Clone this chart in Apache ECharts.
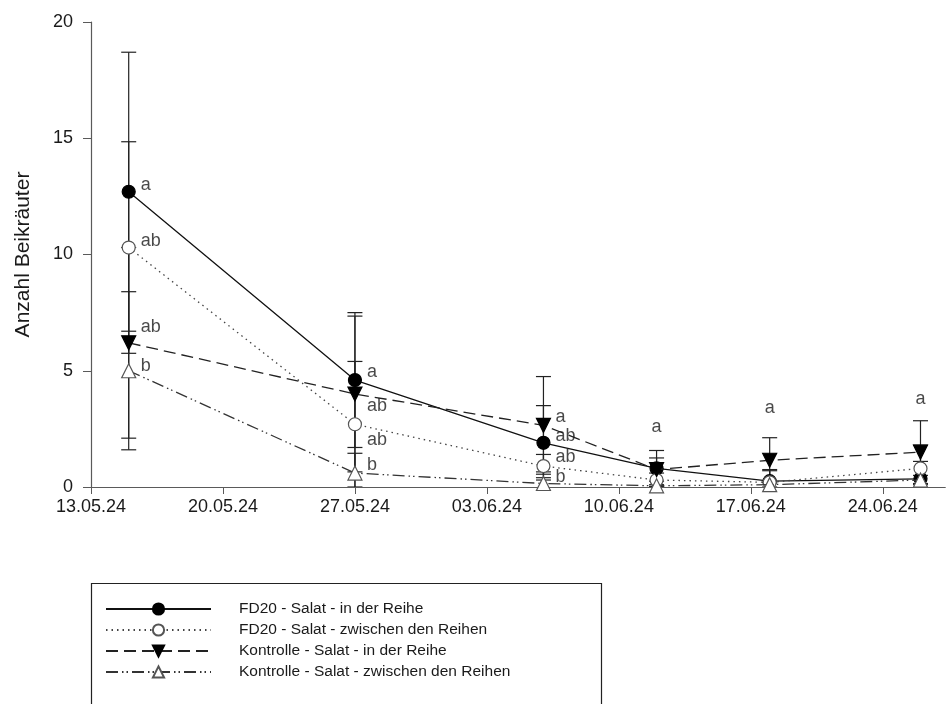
<!DOCTYPE html>
<html><head><meta charset="utf-8">
<script src="https://cdn.jsdelivr.net/npm/echarts@6/dist/echarts.min.js"></script>
<style>html,body{margin:0;padding:0;background:#fff}#c{width:947px;height:704px}</style>
</head><body><div id="c"></div>
<script>
// ---- data ----
const dates = ['15.05.24', '27.05.24', '06.06.24', '12.06.24', '18.06.24', '26.06.24'];
const seriesNames = [
  'FD20 - Salat - in der Reihe',
  'FD20 - Salat - zwischen den Reihen',
  'Kontrolle - Salat - in der Reihe',
  'Kontrolle - Salat - zwischen den Reihen'
];
const fd20Reihe        = [12.7, 4.6, 1.9, 0.8, 0.25, 0.35];
const fd20ReiheErr     = [6.0, 2.9, 1.6, 0.77, 0.45, 0.75];
const fd20Zwischen     = [10.3, 2.7, 0.9, 0.3, 0.2, 0.8];
const fd20ZwischenErr  = [4.55, 2.7, 0.5, 0.3, 0.55, 1.0];
const kontrReihe       = [6.2, 4.0, 2.65, 0.75, 1.15, 1.5];
const kontrReiheErr    = [4.1, 3.35, 2.1, 0.5, 0.97, 1.35];
const kontrZwischen    = [5.0, 0.6, 0.15, 0.05, 0.1, 0.3];
const kontrZwischenErr = [3.4, 0.85, 0.5, 0.05, 0.1, 0.2];

const xTickLabels = ['13.05.24', '20.05.24', '27.05.24', '03.06.24', '10.06.24', '17.06.24', '24.06.24'];
const xAxisEnd = '27.06.24';
const yTicks = [0, 5, 10, 15, 20];
const yAxisTitle = 'Anzahl Beikräuter';

const letterDates  = ['15.05.24','15.05.24','15.05.24','15.05.24','27.05.24','27.05.24','27.05.24','27.05.24','06.06.24','06.06.24','06.06.24','06.06.24','12.06.24','18.06.24','26.06.24'];
const letterValues = [13.0, 10.6, 6.9, 5.2, 4.95, 3.5, 2.0, 0.95, 3.0, 2.2, 1.3, 0.45, 2.6, 3.4, 3.8];
const letterTexts  = ['a','ab','ab','b','a','ab','ab','b','a','ab','ab','b','a','a','a'];
const letterSide   = [true,true,true,true,true,true,true,true,true,true,true,true,false,false,false];

// ---- helpers ----
function dayNum(s) {
  const [d, m, y] = s.split('.').map(Number);
  return Date.UTC(2000 + y, m - 1, d) / 86400000;
}
const base = dayNum(xTickLabels[0]);
const toX = s => dayNum(s) - base;
const xTicks = xTickLabels.map(toX);
const xMax = toX(xAxisEnd) + 0.3;

const FONT = 'Liberation Sans, Arial, sans-serif';
const INK = '#1a1a1a';
const AXIS = '#5a5a5a';

const groups = [
  { vals: fd20Reihe, err: fd20ReiheErr, symbol: 'circle', rot: 0, fill: '#000', border: '#000',
    line: { color: '#111', width: 1.3, type: 'solid' } },
  { vals: fd20Zwischen, err: fd20ZwischenErr, symbol: 'circle', rot: 0, fill: '#fff', border: '#555',
    line: { color: '#444', width: 1.3, type: [1.5, 4] } },
  { vals: kontrReihe, err: kontrReiheErr, symbol: 'triangle', rot: 180, fill: '#000', border: '#000',
    line: { color: '#222', width: 1.3, type: [12, 6] } },
  { vals: kontrZwischen, err: kontrZwischenErr, symbol: 'triangle', rot: 0, fill: '#fff', border: '#555',
    line: { color: '#333', width: 1.3, type: [12, 4, 1.5, 3, 1.5, 4] } }
];

function errRender(params, api) {
  const x = api.value(0), lo = api.value(1), hi = api.value(2);
  const top = api.coord([x, hi]);
  const bot = api.coord([x, Math.max(lo, 0)]);
  const hw = 7.5;
  const st = { stroke: '#222', lineWidth: 1.2 };
  const ch = [
    { type: 'line', shape: { x1: top[0], y1: top[1], x2: bot[0], y2: bot[1] }, style: st },
    { type: 'line', shape: { x1: top[0] - hw, y1: top[1], x2: top[0] + hw, y2: top[1] }, style: st }
  ];
  if (lo >= 0) ch.push({ type: 'line', shape: { x1: bot[0] - hw, y1: bot[1], x2: bot[0] + hw, y2: bot[1] }, style: st });
  return { type: 'group', children: ch };
}

const series = [];
groups.forEach((g, i) => {
  series.push({
    type: 'custom', name: seriesNames[i] + ' err', z: 2, renderItem: errRender, clip: true,
    data: dates.map((d, k) => [toX(d), g.vals[k] - g.err[k], g.vals[k] + g.err[k]])
  });
});
groups.forEach((g, i) => {
  series.push({
    type: 'line', name: seriesNames[i], z: 3 + i,
    data: dates.map((d, k) => [toX(d), g.vals[k]]),
    symbol: g.symbol, symbolRotate: g.rot, symbolSize: g.symbol === 'circle' ? 13 : 14,
    showSymbol: true,
    lineStyle: g.line,
    itemStyle: { color: g.fill, borderColor: g.border, borderWidth: 1.2 },
    emphasis: { disabled: true }
  });
});
series.push({
  type: 'scatter', name: 'letters', z: 10, symbolSize: 0, silent: true,
  data: letterDates.map((d, k) => ({
    value: [toX(d), letterValues[k]],
    label: letterSide[k]
      ? { show: true, position: 'right', distance: 12, formatter: letterTexts[k] }
      : { show: true, position: 'inside', formatter: letterTexts[k] }
  })),
  label: { color: INK, fontFamily: FONT, fontSize: 18 }
});

const chart = echarts.init(document.getElementById('c'));
chart.setOption({
  animation: false,
  backgroundColor: '#fff',
  grid: { left: 91, right: 2, top: 22, bottom: 217, containLabel: false },
  xAxis: [
    {
      type: 'value', min: 0, max: xMax,
      axisLine: { show: true, onZero: false, lineStyle: { color: AXIS, width: 1.2 } },
      axisTick: { show: true, length: 7, lineStyle: { color: AXIS }, customValues: xTicks },
      axisLabel: {
        show: true, margin: 11, color: INK, fontFamily: FONT, fontSize: 18,
        customValues: xTicks,
        formatter: v => { const i = xTicks.findIndex(t => Math.abs(t - v) < 1e-6); return i >= 0 ? xTickLabels[i] : ''; }
      },
      splitLine: { show: false }
    },
    {
      type: 'value', position: 'top', min: 0, max: xMax,
      axisLine: { show: true, lineStyle: { color: AXIS, width: 1.2 } },
      axisTick: { show: false }, axisLabel: { show: false }, splitLine: { show: false }
    }
  ],
  yAxis: {
    type: 'value', min: yTicks[0], max: yTicks[yTicks.length - 1], interval: yTicks[1] - yTicks[0],
    name: yAxisTitle, nameLocation: 'middle', nameGap: 57,
    nameTextStyle: { color: INK, fontFamily: FONT, fontSize: 21 },
    axisLine: { show: true, lineStyle: { color: AXIS, width: 1.2 } },
    axisTick: { show: true, length: 8, lineStyle: { color: AXIS } },
    axisLabel: { margin: 18, color: INK, fontFamily: FONT, fontSize: 18 },
    splitLine: { show: false }
  },
  legend: {
    data: seriesNames,
    orient: 'vertical', left: 105, top: 601,
    itemWidth: 105, itemHeight: 14, itemGap: 5,
    padding: 0,
    selectedMode: false,
    textStyle: { color: INK, fontFamily: FONT, fontSize: 15.5, padding: [0, 0, 0, 23] }
  },
  graphic: [{
    type: 'rect', silent: true,
    shape: { x: 91.5, y: 583.5, width: 510, height: 200 },
    style: { fill: 'none', stroke: '#222', lineWidth: 1.2 }
  }],
  series: series
});
</script>
</body></html>
